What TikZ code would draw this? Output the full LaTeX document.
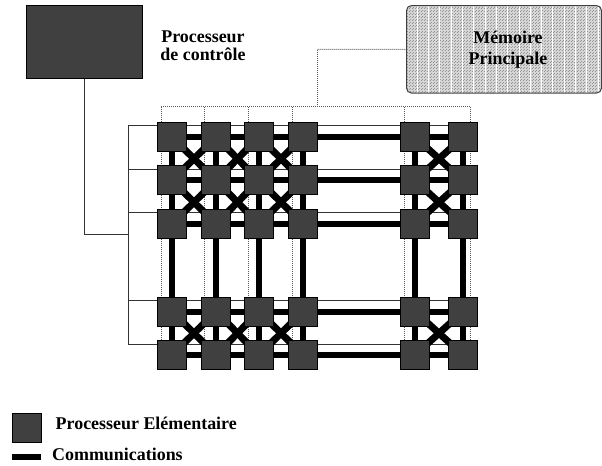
\documentclass[tikz,border=0pt]{standalone}
\usepackage{fontspec}
\setmainfont{Liberation Serif}
\usetikzlibrary{backgrounds}
\tikzset{
  pe/.style={draw=black,line width=1bp,fill=pegray,minimum width=29bp,minimum height=29bp,inner sep=0pt,outer sep=0pt},
  comm/.style={line width=6bp,black},
  xcomm/.style={line width=7bp,black},
  ctrl/.style={line width=1bp,black!80},
  dots/.style={line width=1bp,black!65,dash pattern=on 1bp off 1bp},
  lab/.style={font=\fontsize{18}{18}\selectfont\bfseries,align=center,inner sep=0pt},
  hatch/.style={black!42,line width=.8bp,dash pattern=on 1.3bp off 1.7bp},
}
\definecolor{pegray}{gray}{0.25}
\begin{document}
\begin{tikzpicture}[x=1bp,y=-1bp]
\useasboundingbox (0,0) rectangle (602,466);
% processing elements
\foreach \r/\yy in {1/137,2/180.5,3/224,4/311.5,5/355}{
  \foreach \c/\xx in {1/172,2/216,3/259,4/303,5/415,6/463}{
    \node[pe] (p\r\c) at (\xx,\yy) {};
  }
}
% control processor and memory
\node[draw=black,line width=1bp,fill=pegray,minimum width=116.5bp,minimum height=73bp,inner sep=0pt,outer sep=0pt] (ctl) at (84.5,42) {};
\node[lab] (ctltxt) at (203,46) {Processeur\\de contrôle};
\node[draw=black!75,line width=1bp,rounded corners=5bp,minimum width=195bp,minimum height=87.5bp,inner sep=0pt,outer sep=0pt,fill=black!16,
  path picture={
    \foreach \k in {0,...,32}{
      \draw[hatch] (-100,{-45+\k*3}) -- (100,{-45+\k*3});
      \draw[hatch,dash phase=1.5bp] (-100,{-43.5+\k*3}) -- (100,{-43.5+\k*3});
    }
    \foreach \k in {0,...,17}{
      \draw[white,line width=.9bp] ({-98+\k*11.3},-50) -- ({-98+\k*11.3},50);
    }
  }] (mem) at (504,49.3) {};
\node[lab,font=\fontsize{18}{21}\selectfont\bfseries] (memtxt) at (508,49.5) {Mémoire\\Principale};
% legend
\node[pe] (legpe) at (26.5,427.5) {};
\node[lab,anchor=west] (legpetxt) at (55.5,423) {Processeur Elémentaire};
\coordinate (lega) at (12,457);
\coordinate (legb) at (41,457);
\draw[comm] (lega) -- (legb);
\node[lab,anchor=west] (legcom) at (52,454) {Communications};
% bus coordinates
\coordinate (busT) at (128,126);
\coordinate (b2) at (128,169.5);
\coordinate (b3) at (128,213);
\coordinate (b4) at (128,300.5);
\coordinate (busB) at (128,344);
\coordinate (busE) at (128,235);
\coordinate (ctlc) at (84.5,235);
\coordinate (e1) at (449,126);
\coordinate (e2) at (449,169.5);
\coordinate (e3) at (449,213);
\coordinate (e4) at (449,300.5);
\coordinate (e5) at (449,344);
\coordinate (dT1) at (161,107);
\coordinate (dT2) at (204.5,107);
\coordinate (dT3) at (248,107);
\coordinate (dT4) at (292,107);
\coordinate (dT5) at (404.5,107);
\coordinate (dT6) at (470,107);
\coordinate (dTm) at (317.5,107);
\coordinate (dMm) at (317.5,49.5);
\begin{scope}[on background layer]
  % dotted memory links
  \draw[dots] (dMm) -- (mem.west);
  \draw[dots] (dTm) -- (dMm);
  \draw[dots] (dT1) -- (dT6);
  \foreach \t/\x in {dT1/161,dT2/204.5,dT3/248,dT4/292,dT5/404.5,dT6/470}{
    \coordinate (dB) at (\x,341);
    \draw[dots] (\t) -- (dB);
  }
  % control lines
  \draw[ctrl] (ctl.south) -- (ctlc) -- (busE);
  \draw[ctrl] (busT) -- (busB);
  \draw[ctrl] (busT) -- (e1);
  \draw[ctrl] (b2) -- (e2);
  \draw[ctrl] (b3) -- (e3);
  \draw[ctrl] (b4) -- (e4);
  \draw[ctrl] (busB) -- (e5);
  % communications
  \foreach \r in {1,...,5}{
    \foreach \c/\d in {1/2,2/3,3/4,4/5,5/6}{
      \draw[comm] (p\r\c.center) -- (p\r\d.center);
    }
  }
  \foreach \c in {1,...,6}{
    \foreach \r/\s in {1/2,2/3,3/4,4/5}{
      \draw[comm] (p\r\c.center) -- (p\s\c.center);
    }
  }
  \foreach \r/\s in {1/2,2/3,4/5}{
    \foreach \c/\d in {1/2,2/3,3/4,5/6}{
      \draw[xcomm] (p\r\c.center) -- (p\s\d.center);
      \draw[xcomm] (p\r\d.center) -- (p\s\c.center);
    }
  }
\end{scope}
\end{tikzpicture}
\end{document}
